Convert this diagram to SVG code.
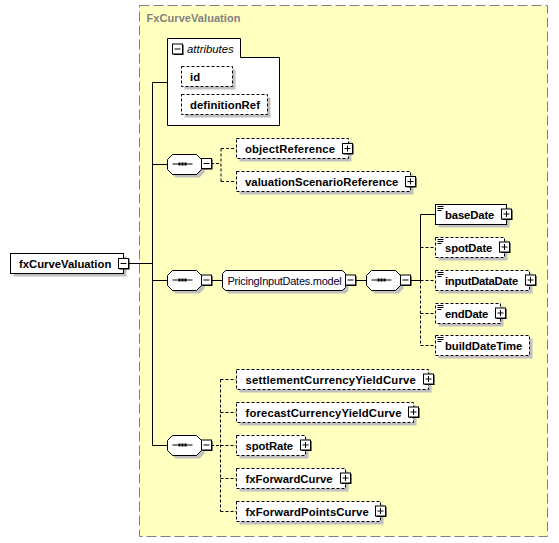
<svg xmlns="http://www.w3.org/2000/svg" xmlns:xlink="http://www.w3.org/1999/xlink" width="559" height="543" viewBox="0 0 559 543">
<style>
.el{fill:#fff;stroke:#000;stroke-width:1}
.opt{stroke-dasharray:3,2}
.sh{fill:#c0c0c0;stroke:none}
.t{font-family:"Liberation Sans",Arial,sans-serif;font-weight:bold;font-size:11.3px;fill:#000}
.g{font-family:"Liberation Sans",Arial,sans-serif;font-size:11px;fill:#000030}
.ln{fill:none;stroke:#000;stroke-width:1}
.dl{fill:none;stroke:#000;stroke-width:1;stroke-dasharray:3,2}
</style>
<defs>
<g id="minus"><rect x="1" y="1" width="10" height="10" fill="#000"/><rect x="0" y="0" width="10" height="10" fill="#fff" stroke="#000"/><path d="M2,5H8" stroke="#000"/></g>
<g id="plus"><rect x="1" y="1" width="10" height="10" fill="#000"/><rect x="0" y="0" width="10" height="10" fill="#fff" stroke="#000"/><path d="M2,5H8M5,2V8" stroke="#000"/></g>
<g id="seqicon"><path d="M5,10H25" stroke="#000"/><rect x="11" y="8.5" width="2" height="3" fill="#000"/><rect x="14" y="8.5" width="2" height="3" fill="#000"/><rect x="17" y="8.5" width="2" height="3" fill="#000"/></g>
<path id="oct" d="M5,0H29L34,5V15L29,20H5L0,15V5Z"/>
<g id="doc"><path d="M2,2.5H8M2,4.5H8M2,6.5H6" stroke="#000"/></g>
</defs>

<g id="complexType">
<rect x="139.5" y="5.5" width="408" height="531" fill="#ffffc0" stroke="#808080" stroke-dasharray="10,4"/>
<text x="146.5" y="22" font-family="Liberation Sans,Arial,sans-serif" font-weight="bold" font-size="11px" fill="#808080" textLength="94" lengthAdjust="spacing">FxCurveValuation</text>
</g>

<g id="connectors">
<path class="ln" d="M129,263.5H152.5M152.5,82.5V445.5M152.5,82.5H167.5M152.5,164.5H167.5M152.5,280.5H167.5M152.5,445.5H167.5"/>
<path class="dl" d="M211,163.5H221M221,148.5V181.5M221,148.5H236.5M221,181.5H236.5"/>
<path class="ln" d="M211,280.5H222.5M355,280.5H366.5M411,280.5H420.5M420.5,214.5V280.5M420.5,214.5H435.5"/>
<path class="dl" d="M420.5,280.5V345.5M420.5,247.5H435.5M420.5,280.5H435.5M420.5,313.5H435.5M420.5,345.5H435.5"/>
<path class="dl" d="M211,445.5H220.5M220.5,379.5V511.5M220.5,379.5H236.5M220.5,412.5H236.5M220.5,445.5H236.5M220.5,478.5H236.5M220.5,511.5H236.5"/>
</g>

<g id="root">
<rect class="sh" x="13.5" y="256.5" width="113" height="20"/>
<rect class="el" x="10.5" y="253.5" width="113" height="20"/>
<text class="t" x="19" y="267.5" textLength="92.3" lengthAdjust="spacing">fxCurveValuation</text>
<use xlink:href="#minus" x="118.5" y="258.5"/>
</g>

<g id="attributes">
<path d="M167.5,38.5H240.5V57.5H279.5V125.5H167.5Z" fill="#fff" stroke="#000"/>
<use xlink:href="#minus" x="172.5" y="44"/>
<text x="187" y="52.5" font-family="Liberation Sans,Arial,sans-serif" font-style="italic" font-size="11.3px" textLength="46.7" lengthAdjust="spacing">attributes</text>
</g>
<g id="attr-id">
<rect class="sh" x="184.5" y="69.5" width="51" height="20"/>
<rect class="el opt" x="181.5" y="66.5" width="51" height="20"/>
<text class="t" x="190" y="80.5">id</text>
</g>
<g id="attr-definitionRef">
<rect class="sh" x="184.5" y="97.5" width="86" height="20"/>
<rect class="el opt" x="181.5" y="94.5" width="86" height="20"/>
<text class="t" x="190" y="108.5" textLength="70" lengthAdjust="spacing">definitionRef</text>
</g>

<g id="seq1">
<use xlink:href="#oct" x="170.5" y="157.5" class="sh"/>
<use xlink:href="#oct" x="167.5" y="154.5" fill="#fff" stroke="#000"/>
<use xlink:href="#seqicon" x="167.5" y="154"/>
<use xlink:href="#minus" x="201.5" y="158.5"/>
</g>
<g id="objectReference">
<rect class="sh" x="239.5" y="141.5" width="112" height="20"/>
<rect class="el opt" x="236.5" y="138.5" width="112" height="20"/>
<text class="t" x="245" y="152.5" textLength="90" lengthAdjust="spacing">objectReference</text>
<use xlink:href="#plus" x="342.5" y="143.5"/>
</g>
<g id="valuationScenarioReference">
<rect class="sh" x="239.5" y="174.5" width="174" height="20"/>
<rect class="el opt" x="236.5" y="171.5" width="174" height="20"/>
<text class="t" x="245" y="185.5" textLength="153.3" lengthAdjust="spacing">valuationScenarioReference</text>
<use xlink:href="#plus" x="405.5" y="176.5"/>
</g>

<g id="seq2">
<use xlink:href="#oct" x="170.5" y="273.5" class="sh"/>
<use xlink:href="#oct" x="167.5" y="270.5" fill="#fff" stroke="#000"/>
<use xlink:href="#seqicon" x="167.5" y="270"/>
<use xlink:href="#minus" x="201.5" y="275"/>
</g>
<g id="PricingInputDates.model">
<path d="M228.5,273.5H345.5L348.5,276.5V290.5L345.5,293.5H228.5L225.5,290.5V276.5Z" fill="#c0c0c0"/>
<path d="M225.5,270.5H342.5L345.5,273.5V287.5L342.5,290.5H225.5L222.5,287.5V273.5Z" fill="#fff" stroke="#000"/>
<text class="g" x="227.5" y="284.5" textLength="114.3" lengthAdjust="spacing">PricingInputDates.model</text>
<use xlink:href="#minus" x="345.5" y="275"/>
</g>
<g id="seq3">
<use xlink:href="#oct" x="369.5" y="273.5" class="sh"/>
<use xlink:href="#oct" x="366.5" y="270.5" fill="#fff" stroke="#000"/>
<use xlink:href="#seqicon" x="366.5" y="270"/>
<use xlink:href="#minus" x="400.5" y="275"/>
</g>
<g id="baseDate">
<rect class="sh" x="438.5" y="207.5" width="71" height="20"/>
<rect class="el" x="435.5" y="204.5" width="71" height="20"/>
<use xlink:href="#doc" x="435.5" y="204"/>
<text class="t" x="445" y="218.5" textLength="49.3" lengthAdjust="spacing">baseDate</text>
<use xlink:href="#plus" x="501.5" y="209"/>
</g>
<g id="spotDate">
<rect class="sh" x="438.5" y="240.5" width="69" height="20"/>
<rect class="el opt" x="435.5" y="237.5" width="69" height="20"/>
<use xlink:href="#doc" x="435.5" y="237"/>
<text class="t" x="445" y="251.5" textLength="47.3" lengthAdjust="spacing">spotDate</text>
<use xlink:href="#plus" x="499.5" y="242"/>
</g>
<g id="inputDataDate">
<rect class="sh" x="438.5" y="273.5" width="94" height="20"/>
<rect class="el opt" x="435.5" y="270.5" width="94" height="20"/>
<use xlink:href="#doc" x="435.5" y="270"/>
<text class="t" x="445" y="284.5" textLength="73.3" lengthAdjust="spacing">inputDataDate</text>
<use xlink:href="#plus" x="525.5" y="275"/>
</g>
<g id="endDate">
<rect class="sh" x="438.5" y="306.5" width="65" height="20"/>
<rect class="el opt" x="435.5" y="303.5" width="65" height="20"/>
<use xlink:href="#doc" x="435.5" y="303"/>
<text class="t" x="445" y="317.5" textLength="43.3" lengthAdjust="spacing">endDate</text>
<use xlink:href="#plus" x="495.5" y="308"/>
</g>
<g id="buildDateTime">
<rect class="sh" x="438.5" y="338.5" width="94" height="20"/>
<rect class="el opt" x="435.5" y="335.5" width="94" height="20"/>
<use xlink:href="#doc" x="435.5" y="335"/>
<text class="t" x="445" y="349.5" textLength="77.3" lengthAdjust="spacing">buildDateTime</text>
</g>

<g id="seq4">
<use xlink:href="#oct" x="170.5" y="438.5" class="sh"/>
<use xlink:href="#oct" x="167.5" y="435.5" fill="#fff" stroke="#000"/>
<use xlink:href="#seqicon" x="167.5" y="435"/>
<use xlink:href="#minus" x="201.5" y="440"/>
</g>
<g id="settlementCurrencyYieldCurve">
<rect class="sh" x="239.5" y="372.5" width="192" height="20"/>
<rect class="el opt" x="236.5" y="369.5" width="192" height="20"/>
<text class="t" x="245.5" y="383.5" textLength="170.3" lengthAdjust="spacing">settlementCurrencyYieldCurve</text>
<use xlink:href="#plus" x="423.5" y="374"/>
</g>
<g id="forecastCurrencyYieldCurve">
<rect class="sh" x="239.5" y="405.5" width="177" height="20"/>
<rect class="el opt" x="236.5" y="402.5" width="177" height="20"/>
<text class="t" x="245.5" y="416.5" textLength="156" lengthAdjust="spacing">forecastCurrencyYieldCurve</text>
<use xlink:href="#plus" x="408.5" y="407"/>
</g>
<g id="spotRate">
<rect class="sh" x="239.5" y="438.5" width="69" height="20"/>
<rect class="el opt" x="236.5" y="435.5" width="69" height="20"/>
<text class="t" x="245.5" y="449.5" textLength="47.6" lengthAdjust="spacing">spotRate</text>
<use xlink:href="#plus" x="300.5" y="440"/>
</g>
<g id="fxForwardCurve">
<rect class="sh" x="239.5" y="471.5" width="109" height="20"/>
<rect class="el opt" x="236.5" y="468.5" width="109" height="20"/>
<text class="t" x="245.5" y="482.5" textLength="87" lengthAdjust="spacing">fxForwardCurve</text>
<use xlink:href="#plus" x="340.5" y="473"/>
</g>
<g id="fxForwardPointsCurve">
<rect class="sh" x="239.5" y="504.5" width="144" height="20"/>
<rect class="el opt" x="236.5" y="501.5" width="144" height="20"/>
<text class="t" x="245.5" y="515.5" textLength="123.3" lengthAdjust="spacing">fxForwardPointsCurve</text>
<use xlink:href="#plus" x="375.5" y="506"/>
</g>
</svg>
